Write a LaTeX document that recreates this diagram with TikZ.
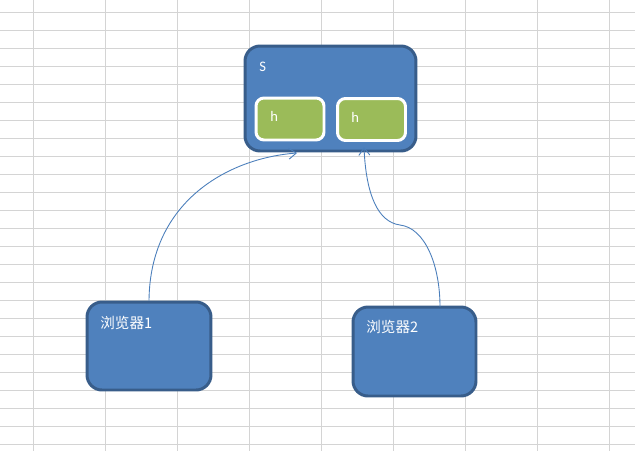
\documentclass[tikz,border=0pt]{standalone}
\usepackage{fontspec}
\setmainfont{Carlito}
\newfontfamily\cjk{Noto Sans CJK SC}
\usetikzlibrary{arrows.meta}

\definecolor{boxBlue}{HTML}{4F81BD}
\definecolor{boxBorder}{HTML}{385D8A}
\definecolor{hGreen}{HTML}{9BBB59}
\definecolor{gridGray}{HTML}{D4D4D4}
\definecolor{linkBlue}{HTML}{4A7EBB}

\tikzset{
	gridline/.style={draw=gridGray, line width=0.55pt},
	bigbox/.style={draw=boxBorder, fill=boxBlue, line width=1.7pt, rounded corners=0.3cm},
	hbox/.style={draw=white, fill=hGreen, line width=1.7pt, rounded corners=0.16cm, minimum width=1.36cm, minimum height=0.84cm},
	boxtext/.style={text=white, font=\fontsize{8.3}{10}\selectfont, inner sep=0pt, anchor=west},
	link/.style={draw=linkBlue, line width=0.5pt, -{Straight Barb[length=1.5mm,width=2.2mm]}}
}

\begin{document}
\begin{tikzpicture}[x=0.02cm, y=-0.02cm]
			
			\useasboundingbox (0,0) rectangle (635,451);
			\fill[white] (0,0) rectangle (635,451);
			
			%Grid
			\foreach \x in {33,105,...,609}
				\draw[gridline] (\x,0) -- (\x,451);
			\foreach \y in {12,30,...,444}
				\draw[gridline] (0,\y) -- (635,\y);
			
			%Nodes
			\node (s) at (330.5,98.5) [bigbox, minimum width=3.42cm, minimum height=2.1cm]{};
			\node (sText) at (259,67) [boxtext]{S};
			\node (hLeft) at (290,119) [hbox]{};
			\node (hLeftText) at (270,116) [boxtext]{h};
			\node (hRight) at (371.5,119.5) [hbox]{};
			\node (hRightText) at (351,117) [boxtext]{h};
			
			\node (browserOne) at (149,346) [bigbox, minimum width=2.48cm, minimum height=1.76cm]{};
			\node (browserOneText) at (100,323) [boxtext]{\cjk 浏览器1};
			\node (browserTwo) at (414.5,351.5) [bigbox, minimum width=2.46cm, minimum height=1.78cm]{};
			\node (browserTwoText) at (366,327) [boxtext]{\cjk 浏览器2};
			
			%Links
			\coordinate (sLeftIn) at (297,153);
			\coordinate (sRightIn) at (364,147);
			\coordinate (browserTwoOut) at (440,307);
			\draw[link] (browserOne.north) .. controls (150,200) and (230,158) .. (sLeftIn);
			\draw[link] (browserTwoOut) .. controls (440,265) and (425,228) .. (400,225)
				.. controls (378,222) and (366,195) .. (sRightIn);
			
\end{tikzpicture}
\end{document}
